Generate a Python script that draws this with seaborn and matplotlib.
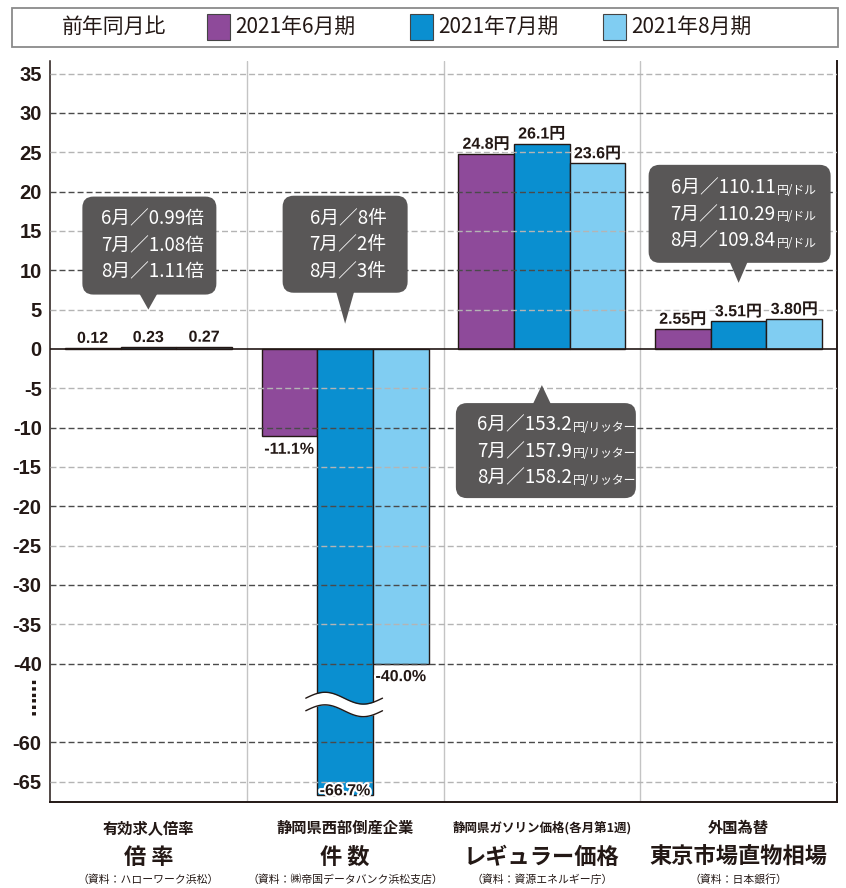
import numpy as np
import pandas as pd
import matplotlib
matplotlib.use('Agg')
import matplotlib.pyplot as plt
import matplotlib.patheffects as pe
import seaborn as sns
from matplotlib.patches import FancyBboxPatch, Polygon, Rectangle
from matplotlib.transforms import IdentityTransform

# ---- data ----
periods = ['2021年6月期', '2021年7月期', '2021年8月期']
cat_keys = ['求人倍率', '倒産件数', 'ガソリン', '為替']
cat_top = ['有効求人倍率', '静岡県西部倒産企業', '静岡県ガソリン価格(各月第1週)', '外国為替']
cat_main = ['倍 率', '件 数', 'レギュラー価格', '東京市場直物相場']
cat_source = ['（資料：ハローワーク浜松）', '（資料：㈱帝国データバンク浜松支店）',
              '（資料：資源エネルギー庁）', '（資料：日本銀行）']

jun_vals = [0.12, -11.1, 24.8, 2.55]
jul_vals = [0.23, -66.7, 26.1, 3.51]
aug_vals = [0.27, -40.0, 23.6, 3.80]
value_fmt = ['{:.2f}', '{:.1f}%', '{:.1f}円', '{:.2f}円']

callout_months = ['6月', '7月', '8月']
ratio_levels = ['0.99', '1.08', '1.11']
bankrupt_counts = ['8', '2', '3']
gas_prices = ['153.2', '157.9', '158.2']
usd_jpy = ['110.11', '110.29', '109.84']

ytick_vals = [35, 30, 25, 20, 15, 10, 5, 0, -5, -10, -15, -20, -25, -30, -35, -40, -60, -65]

colors = ['#8e4a9a', '#0a8fd0', '#80cdf2']
ink = '#231815'
bubble = '#595757'

rows = []
for p, vals in zip(periods, [jun_vals, jul_vals, aug_vals]):
    for c, v in zip(cat_keys, vals):
        rows.append({'cat': c, 'period': p, 'value': v})
df = pd.DataFrame(rows)


# broken axis: -40..-60 is squeezed to half height
def fwd(v):
    v = np.asarray(v, dtype=float)
    return np.where(v >= -40, v, np.where(v <= -60, v + 10, -40 + (v + 40) * 0.5))


def inv(t):
    t = np.asarray(t, dtype=float)
    return np.where(t >= -40, t, np.where(t <= -50, t - 10, -40 + (t + 40) * 2))


sns.set_style('white')
plt.rcParams['font.family'] = ['Noto Sans CJK JP', 'DejaVu Sans']
num_font = ['Liberation Sans', 'Noto Sans CJK JP']

W, H = 846, 888
fig = plt.figure(figsize=(W / 100, H / 100), dpi=100)
ax = fig.add_axes([50 / W, 86 / H, 787 / W, 741 / H])

sns.barplot(data=df, x='cat', y='value', hue='period', order=cat_keys, hue_order=periods,
            palette=colors, saturation=1, width=0.85, edgecolor=ink, linewidth=1.0,
            legend=False, ax=ax, zorder=2)

ax.set_yscale('function', functions=(fwd, inv))
ax.set_ylim(-67.6, 36.6)
ax.set_xlim(-0.5, 3.5)
ax.set_xlabel('')
ax.set_ylabel('')
ax.set_xticks([])
ax.set_yticks(ytick_vals)
ax.set_yticklabels([str(v) for v in ytick_vals], fontfamily=num_font, fontweight='bold')
ax.tick_params(axis='y', length=0, pad=6, labelsize=14.5, labelcolor=ink)

for s in ['left', 'right', 'bottom']:
    ax.spines[s].set_color(ink)
ax.spines['left'].set_linewidth(1.1)
ax.spines['right'].set_linewidth(1.4)
ax.spines['bottom'].set_linewidth(1.4)
ax.spines['top'].set_visible(False)

# grid (drawn over bars like the original)
for t in ytick_vals:
    if t == 0:
        continue
    col = '#4a4a4a' if t % 10 == 0 else '#b4b4b4'
    ax.axhline(t, color=col, lw=1.0, ls=(0, (4.3, 2.2)), zorder=3)
ax.axhline(0, color=ink, lw=1.2, zorder=3.5)
for x in [0.5, 1.5, 2.5]:
    ax.axvline(x, color='#c4c4c4', lw=1.0, zorder=1)

# value labels
halo = [pe.withStroke(linewidth=3, foreground='white')]
for hi, (cont, vals) in enumerate(zip(ax.containers, [jun_vals, jul_vals, aug_vals])):
    for ci, (bar, v) in enumerate(zip(cont.patches, vals)):
        xc = bar.get_x() + bar.get_width() / 2
        txt = value_fmt[ci].format(v)
        if v >= 0:
            off, va = (0, 1.5), 'bottom'
        elif v > -60:
            off, va = (0, -4), 'top'
        else:
            off, va = (0, 3), 'center'
        ax.annotate(txt, xy=(xc, v), xytext=off, textcoords='offset points', ha='center', va=va,
                    fontsize=11.5, fontweight='bold', fontfamily=num_font, color=ink,
                    path_effects=halo, zorder=6)

# break symbol on the -66.7 bar
bx = np.linspace(0.8, 1.19, 80)
wave = 0.75 * np.sin(2 * np.pi * (bx - 0.8) / 0.39)
t_mid = -45.2
ax.fill_between(bx, inv(t_mid - 0.8 + wave), inv(t_mid + 0.8 + wave), color='white', lw=0, zorder=4)
ax.plot(bx, inv(t_mid + 0.8 + wave), color=ink, lw=1.0, zorder=4.5)
ax.plot(bx, inv(t_mid - 0.8 + wave), color=ink, lw=1.0, zorder=4.5)

fig.text(30, 888 - 696, '……', transform=IdentityTransform(), rotation=90, ha='center', va='center',
         fontsize=14, fontweight='bold', family='DejaVu Sans', color=ink)

# category labels under the axis
xt = ax.get_xaxis_transform()
for i in range(len(cat_keys)):
    fs = 11 if len(cat_top[i]) < 12 else 9
    ax.text(i, -26 / 741, cat_top[i], transform=xt, ha='center', va='center', fontsize=fs,
            fontweight='bold', color=ink)
    ax.text(i, -55 / 741, cat_main[i], transform=xt, ha='center', va='center', fontsize=16,
            fontweight='bold', color=ink)
    ax.text(i, -78 / 741, cat_source[i], transform=xt, ha='center', va='center', fontsize=7.8,
            color=ink)


# callout bubbles
def callout(gx, ty, direction, w, h, length, dx, lines, suffix=None, split_dx=0):
    tx, tyy = ax.transData.transform((gx, ty))
    cx = tx + dx
    if direction == 'down':
        bottom = tyy + length
        tri = [(tx - 9, bottom + 1), (tx + 9, bottom + 1), (tx, tyy)]
    else:
        bottom = tyy - length - h
        tri = [(tx - 9, bottom + h - 1), (tx + 9, bottom + h - 1), (tx, tyy)]
    box = FancyBboxPatch((cx - w / 2, bottom), w, h, boxstyle='round,pad=0,rounding_size=11',
                         transform=IdentityTransform(), fc=bubble, ec='none', zorder=5)
    fig.add_artist(box)
    fig.add_artist(Polygon(tri, closed=True, transform=IdentityTransform(), fc=bubble, ec='none', zorder=5))
    cy = bottom + h / 2
    for k, line in enumerate(lines):
        ly = cy + (1 - k) * 26.5
        if suffix is None:
            fig.text(cx + 3, ly, line, transform=IdentityTransform(), ha='center', va='center',
                     fontsize=13.5, color='white', zorder=6)
        else:
            fig.text(cx + split_dx, ly - 6.5, line, transform=IdentityTransform(), ha='right',
                     va='baseline', fontsize=13.5, color='white', zorder=6)
            fig.text(cx + split_dx + 1, ly - 6.5, suffix, transform=IdentityTransform(), ha='left',
                     va='baseline', fontsize=8.5, color='white', zorder=6)


callout(0, 5.0, 'down', 134, 98, 15, 1, [m + '／' + r + '倍' for m, r in zip(callout_months, ratio_levels)])
callout(1, 3.2, 'down', 125, 97, 31, 0, [m + '／' + r + '件' for m, r in zip(callout_months, bankrupt_counts)])
callout(2, -4.6, 'up', 180, 95, 18, 4, [m + '／' + r for m, r in zip(callout_months, gas_prices)],
        suffix='円/リッター', split_dx=26)
callout(3, 8.4, 'down', 182, 98, 20, 1, [m + '／' + r for m, r in zip(callout_months, usd_jpy)],
        suffix='円/ドル', split_dx=36)

# legend strip at the top
fig.add_artist(Rectangle((12, 841), 826, 39, transform=IdentityTransform(), fc='white',
                         ec='#8a8a8a', lw=1.3, zorder=1))
fig.text(62, 861, '前年同月比', transform=IdentityTransform(), ha='left', va='center',
         fontsize=15, color=ink, zorder=2)
for xl, p, c in zip([207, 410, 603], periods, colors):
    fig.add_artist(Rectangle((xl, 848), 23, 26, transform=IdentityTransform(), fc=c,
                             ec='#444444', lw=0.8, zorder=2))
    fig.text(xl + 28, 861, p, transform=IdentityTransform(), ha='left', va='center',
             fontsize=15, color=ink, zorder=2)

fig.savefig('out.png', dpi=100)
